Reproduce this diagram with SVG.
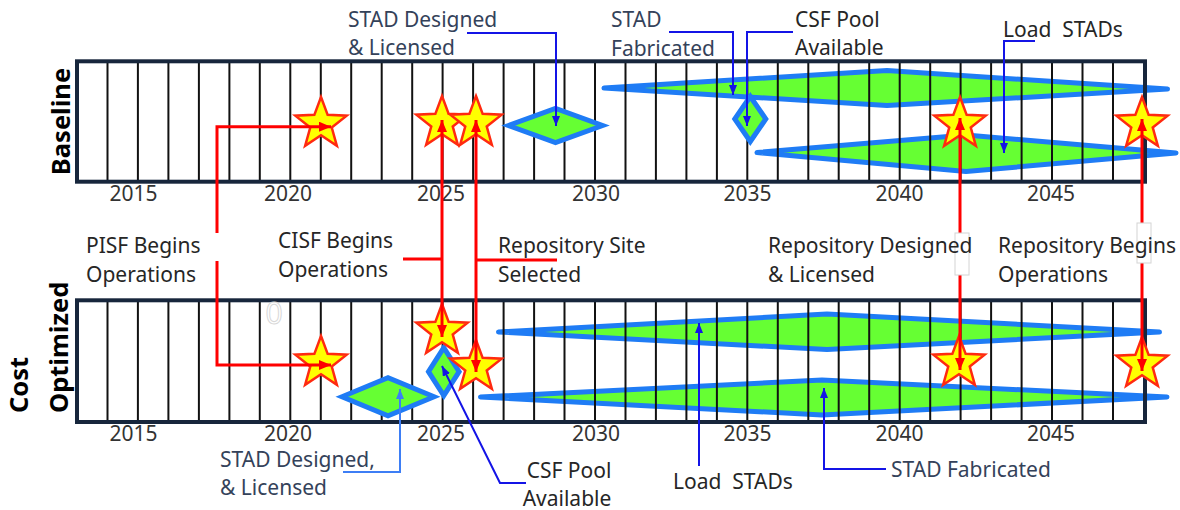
<svg xmlns="http://www.w3.org/2000/svg" width="1180" height="510" viewBox="0 0 1180 510">
<style>
text{font-family:"Noto Sans","Open Sans","Liberation Sans",sans-serif;font-size:21px;fill:#262626}
.yr{fill:#333;text-anchor:middle}
.stad{fill:#34425a}
.side{font-weight:bold;font-size:25.5px;fill:#000}
.grid line{stroke:#111;stroke-width:2}
.panel{fill:none;stroke:#17263c;stroke-width:4}
.big{fill:#66ff33;stroke:#1f7cf5;stroke-width:5;stroke-linejoin:round}
.dia{fill:#66ff33;stroke:#1f7cf5;stroke-width:5;stroke-linejoin:miter}
.star{fill:#ffff00;stroke:#ff2a10;stroke-width:2.5;stroke-linejoin:miter}
.red{fill:none;stroke:#ff0000;stroke-width:3}
.blu{fill:none;stroke:#1414e6;stroke-width:2}
.lblu{fill:none;stroke:#3d7ef5;stroke-width:2}
.box{fill:#fff;stroke:#d4d4d4;stroke-width:1}
</style>
<defs>
<path id="star" d="M0,-27 L6.64,-9.14 L25.68,-8.34 L10.75,3.49 L15.87,21.84 L0,11.3 L-15.87,21.84 L-10.75,3.49 L-25.68,-8.34 L-6.64,-9.14 Z"/>
<marker id="ar" viewBox="0 0 12 10" refX="12" refY="5" markerWidth="12" markerHeight="10" markerUnits="userSpaceOnUse" orient="auto-start-reverse"><path d="M0,0 L12,5 L0,10 z" fill="#ff0000"/></marker>
<marker id="ab" viewBox="0 0 10 8" refX="10" refY="4" markerWidth="10" markerHeight="8" markerUnits="userSpaceOnUse" orient="auto-start-reverse"><path d="M0,0 L10,4 L0,8 z" fill="#1414e6"/></marker>
<marker id="al" viewBox="0 0 10 8" refX="10" refY="4" markerWidth="10" markerHeight="8" markerUnits="userSpaceOnUse" orient="auto-start-reverse"><path d="M0,0 L10,4 L0,8 z" fill="#3d7ef5"/></marker>
</defs>
<rect width="1180" height="510" fill="#fff"/>

<!-- long diamonds (behind grid) -->
<g id="load-stads-base">
<path class="big" d="M604,88 L887,70.5 L1167.5,89 L887,105.5 Z"/>
</g>
<g id="load-stads-base-2">
<path class="big" d="M757,152.5 L966,135 L1176,153 L966,171.5 Z"/>
</g>
<g id="load-stads-opt-1">
<path class="big" d="M498.5,332 L827,314 L1159.5,332 L827,349.5 Z"/>
</g>
<g id="load-stads-opt-2">
<path class="big" d="M480.5,397 L822,380 L1167,397 L822,415 Z"/>
</g>

<!-- grids -->
<g class="grid" id="grid-baseline">
<line x1="107.5" y1="61" x2="107.5" y2="182"/><line x1="137.9" y1="61" x2="137.9" y2="182"/><line x1="168.4" y1="61" x2="168.4" y2="182"/><line x1="198.9" y1="61" x2="198.9" y2="182"/><line x1="229.4" y1="61" x2="229.4" y2="182"/><line x1="259.8" y1="61" x2="259.8" y2="182"/><line x1="290.3" y1="61" x2="290.3" y2="182"/><line x1="320.8" y1="61" x2="320.8" y2="182"/><line x1="351.2" y1="61" x2="351.2" y2="182"/><line x1="381.7" y1="61" x2="381.7" y2="182"/><line x1="412.2" y1="61" x2="412.2" y2="182"/><line x1="442.6" y1="61" x2="442.6" y2="182"/><line x1="473.1" y1="61" x2="473.1" y2="182"/><line x1="503.6" y1="61" x2="503.6" y2="182"/><line x1="534.1" y1="61" x2="534.1" y2="182"/><line x1="564.5" y1="61" x2="564.5" y2="182"/><line x1="595" y1="61" x2="595" y2="182"/><line x1="625.5" y1="61" x2="625.5" y2="182"/><line x1="655.9" y1="61" x2="655.9" y2="182"/><line x1="686.4" y1="61" x2="686.4" y2="182"/><line x1="716.9" y1="61" x2="716.9" y2="182"/><line x1="747.3" y1="61" x2="747.3" y2="182"/><line x1="777.8" y1="61" x2="777.8" y2="182"/><line x1="808.3" y1="61" x2="808.3" y2="182"/><line x1="838.7" y1="61" x2="838.7" y2="182"/><line x1="869.2" y1="61" x2="869.2" y2="182"/><line x1="899.7" y1="61" x2="899.7" y2="182"/><line x1="930.2" y1="61" x2="930.2" y2="182"/><line x1="960.6" y1="61" x2="960.6" y2="182"/><line x1="991.1" y1="61" x2="991.1" y2="182"/><line x1="1021.6" y1="61" x2="1021.6" y2="182"/><line x1="1052" y1="61" x2="1052" y2="182"/><line x1="1082.5" y1="61" x2="1082.5" y2="182"/><line x1="1113" y1="61" x2="1113" y2="182"/>
</g>
<g class="grid" id="grid-optimized">
<line x1="107.5" y1="300" x2="107.5" y2="422"/><line x1="137.9" y1="300" x2="137.9" y2="422"/><line x1="168.4" y1="300" x2="168.4" y2="422"/><line x1="198.9" y1="300" x2="198.9" y2="422"/><line x1="229.4" y1="300" x2="229.4" y2="422"/><line x1="259.8" y1="300" x2="259.8" y2="422"/><line x1="290.3" y1="300" x2="290.3" y2="422"/><line x1="320.8" y1="300" x2="320.8" y2="422"/><line x1="351.2" y1="300" x2="351.2" y2="422"/><line x1="381.7" y1="300" x2="381.7" y2="422"/><line x1="412.2" y1="300" x2="412.2" y2="422"/><line x1="442.6" y1="300" x2="442.6" y2="422"/><line x1="473.1" y1="300" x2="473.1" y2="422"/><line x1="503.6" y1="300" x2="503.6" y2="422"/><line x1="534.1" y1="300" x2="534.1" y2="422"/><line x1="564.5" y1="300" x2="564.5" y2="422"/><line x1="595" y1="300" x2="595" y2="422"/><line x1="625.5" y1="300" x2="625.5" y2="422"/><line x1="655.9" y1="300" x2="655.9" y2="422"/><line x1="686.4" y1="300" x2="686.4" y2="422"/><line x1="716.9" y1="300" x2="716.9" y2="422"/><line x1="747.3" y1="300" x2="747.3" y2="422"/><line x1="777.8" y1="300" x2="777.8" y2="422"/><line x1="808.3" y1="300" x2="808.3" y2="422"/><line x1="838.7" y1="300" x2="838.7" y2="422"/><line x1="869.2" y1="300" x2="869.2" y2="422"/><line x1="899.7" y1="300" x2="899.7" y2="422"/><line x1="930.2" y1="300" x2="930.2" y2="422"/><line x1="960.6" y1="300" x2="960.6" y2="422"/><line x1="991.1" y1="300" x2="991.1" y2="422"/><line x1="1021.6" y1="300" x2="1021.6" y2="422"/><line x1="1052" y1="300" x2="1052" y2="422"/><line x1="1082.5" y1="300" x2="1082.5" y2="422"/><line x1="1113" y1="300" x2="1113" y2="422"/>
</g>
<rect class="panel" x="77" y="61.3" width="1068" height="120.4"/>
<rect class="panel" x="77" y="300.3" width="1068" height="121.7"/>
<text x="274" y="324" text-anchor="middle" style="font-size:30px;fill:#fff;stroke:#d8d8d8;stroke-width:1">0</text>

<!-- years -->
<g id="years-baseline">
<text class="yr" x="133.5" y="201">2015</text><text class="yr" x="288" y="201">2020</text><text class="yr" x="441" y="201">2025</text><text class="yr" x="596" y="201">2030</text><text class="yr" x="747.5" y="201">2035</text><text class="yr" x="899.5" y="201">2040</text><text class="yr" x="1051" y="201">2045</text>
</g>
<g id="years-optimized">
<text class="yr" x="133.5" y="441">2015</text><text class="yr" x="288" y="441">2020</text><text class="yr" x="441" y="441">2025</text><text class="yr" x="596" y="441">2030</text><text class="yr" x="747.5" y="441">2035</text><text class="yr" x="899.5" y="441">2040</text><text class="yr" x="1051" y="441">2045</text>
</g>
<text class="side" transform="translate(70,121.5) rotate(-90)" text-anchor="middle">Baseline</text>
<text class="side" transform="translate(28,413) rotate(-90)">Cost</text>
<text class="side" transform="translate(68,413) rotate(-90)">Optimized</text>

<!-- small diamonds -->
<g id="stad-designed-base"><path class="dia" d="M508.5,125.5 L555.5,108.5 L602.5,125.5 L555.5,142.5 Z"/></g>
<g id="csf-pool-base"><path class="dia" d="M734.8,119 L750.3,96.5 L765.8,119 L750.3,141.5 Z"/></g>
<g id="stad-designed-opt"><path class="dia" d="M342,396.7 L388,377.7 L434,396.7 L388,415.7 Z"/></g>
<g id="csf-pool-opt"><path class="dia" d="M428.5,371.7 L443.8,347.7 L459.1,371.7 L443.8,395.7 Z"/></g>

<!-- stars -->
<g id="pisf-base"><use href="#star" class="star" x="321" y="124"/></g>
<g id="cisf-base"><use href="#star" class="star" x="442" y="123"/></g>
<g id="site-base"><use href="#star" class="star" x="476" y="123"/></g>
<g id="repo-designed-base"><use href="#star" class="star" x="960" y="124"/></g>
<g id="repo-ops-base"><use href="#star" class="star" x="1142" y="124"/></g>
<g id="pisf-opt"><use href="#star" class="star" x="321" y="363"/></g>
<g id="cisf-opt"><use href="#star" class="star" x="442" y="331"/></g>
<g id="site-opt"><use href="#star" class="star" x="476" y="367"/></g>
<g id="repo-designed-opt"><use href="#star" class="star" x="959" y="363"/></g>
<g id="repo-ops-opt"><use href="#star" class="star" x="1142" y="364"/></g>

<!-- connectors -->
<g id="connectors">
<path class="red" d="M217,233 V126.7 H331" marker-end="url(#ar)"/>
<path class="red" d="M217,261 V365 H331" marker-end="url(#ar)"/>
<path class="red" d="M442,337 V120" marker-start="url(#ar)" marker-end="url(#ar)"/>
<path class="red" d="M403,259 H442"/>
<path class="red" d="M476,372 V120" marker-start="url(#ar)" marker-end="url(#ar)"/>
<path class="red" d="M476,260 H557"/>
<path class="red" d="M960,370 V118" marker-start="url(#ar)" marker-end="url(#ar)"/>
<path class="red" d="M1142,371 V119" marker-start="url(#ar)" marker-end="url(#ar)"/>
<rect class="box" x="955" y="233" width="14" height="42"/>
<rect class="box" x="1137" y="223" width="14" height="40"/>
<path class="blu" d="M467,33 H556 V126" marker-end="url(#ab)"/>
<path class="blu" d="M669,32 H733 V95" marker-end="url(#ab)"/>
<path class="blu" d="M793,32 H747 V126" marker-end="url(#ab)"/>
<path class="blu" d="M1035,41 H1004 V153" marker-end="url(#ab)"/>
<path class="lblu" d="M343,472 H400 V389" marker-end="url(#al)"/>
<path class="blu" d="M526,483 H500 L442,366" marker-end="url(#ab)"/>
<path class="blu" d="M699,466 V323" marker-end="url(#ab)"/>
<path class="blu" d="M886,469 H824 V388" marker-end="url(#ab)"/>
</g>

<!-- labels -->
<g id="lbl-stad-designed-base"><text class="stad" x="348" y="27">STAD Designed</text><text class="stad" x="348" y="55">&amp; Licensed</text></g>
<g id="lbl-stad-fab-base"><text class="stad" x="611" y="27">STAD</text><text class="stad" x="611" y="56">Fabricated</text></g>
<g id="lbl-csf-base"><text x="795" y="27">CSF Pool</text><text x="795" y="55">Available</text></g>
<g id="lbl-load-base"><text x="1003" y="37" xml:space="preserve">Load  STADs</text></g>
<g id="lbl-pisf"><text x="86" y="253">PISF Begins</text><text x="86" y="282">Operations</text></g>
<g id="lbl-cisf"><text x="278" y="248">CISF Begins</text><text x="278" y="277">Operations</text></g>
<g id="lbl-site"><text x="498" y="253">Repository Site</text><text x="498" y="282">Selected</text></g>
<g id="lbl-repo-designed"><text x="768" y="253">Repository Designed</text><text x="768" y="282">&amp; Licensed</text></g>
<g id="lbl-repo-ops"><text x="998" y="253">Repository Begins</text><text x="998" y="282">Operations</text></g>
<g id="lbl-stad-designed-opt"><text class="stad" x="220" y="467">STAD Designed,</text><text class="stad" x="220" y="495">&amp; Licensed</text></g>
<g id="lbl-csf-opt"><text x="569" y="478" text-anchor="middle">CSF Pool</text><text x="567" y="506" text-anchor="middle">Available</text></g>
<g id="lbl-load-opt"><text x="673" y="489" xml:space="preserve">Load  STADs</text></g>
<g id="lbl-stad-fab-opt"><text class="stad" x="891" y="477">STAD Fabricated</text></g>
</svg>
